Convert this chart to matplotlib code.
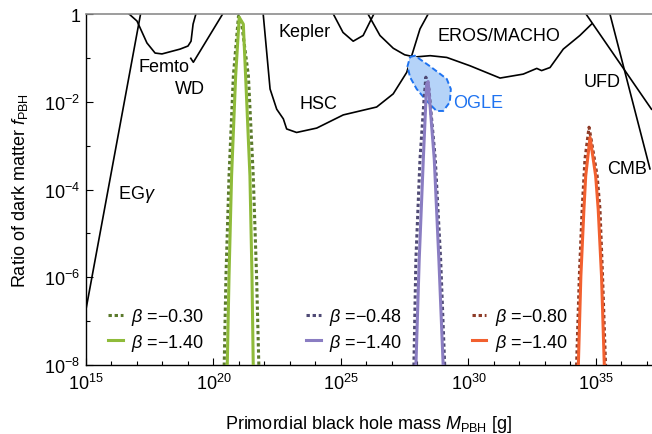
import numpy as np
import matplotlib
matplotlib.use("Agg")
import matplotlib.pyplot as plt
from matplotlib.legend import Legend
from matplotlib.ticker import FixedLocator, FixedFormatter

plt.rcParams["font.family"] = ["Liberation Sans", "DejaVu Sans"]
plt.rcParams["mathtext.fontset"] = "custom"
plt.rcParams["mathtext.rm"] = "Liberation Sans"
plt.rcParams["mathtext.it"] = "Liberation Sans:italic"
plt.rcParams["mathtext.bf"] = "Liberation Sans:bold"
plt.rcParams["font.size"] = 13

# constraint curves, log10(M / g) and log10(f_PBH)
egamma_logm = [15.0, 17.14]
egamma_logf = [-6.73, 0.0]

femto_logm = [16.69, 17.0, 17.39, 17.71, 17.98, 18.69, 19.0, 19.12, 19.20, 19.31]
femto_logf = [0.0, -0.16, -0.66, -0.89, -0.91, -0.80, -0.73, -0.62, -0.23, 0.0]

wd_logm = [19.11, 19.21, 20.36]
wd_logf = [-1.01, -1.10, 0.0]

kepler_logm = [24.70, 25.08, 25.48, 25.87, 26.29]
kepler_logf = [0.0, -0.42, -0.62, -0.49, 0.0]

hsc_logm = [21.95, 22.22, 22.48, 22.74, 22.87, 23.26, 24.05, 25.09,
            26.40, 27.05, 27.58, 27.77, 28.10, 28.42]
hsc_logf = [0.0, -1.71, -2.17, -2.39, -2.62, -2.70, -2.60, -2.30,
            -2.12, -1.82, -1.33, -0.96, -0.34, 0.0]

eros_logm = [26.06, 26.53, 27.05, 27.50, 27.90, 28.50, 29.15, 30.06,
             31.24, 32.15, 32.68, 32.87, 33.20, 33.72, 34.37, 34.83]
eros_logf = [0.0, -0.49, -0.78, -0.93, -0.98, -0.95, -0.99, -1.18,
             -1.46, -1.37, -1.24, -1.29, -1.22, -0.80, -0.49, -0.23]

ufd_logm = [34.61, 37.18]
ufd_logf = [0.0, -2.17]

cmb_logm = [35.55, 37.12]
cmb_logf = [0.0, -3.53]

ogle_logm = [27.71, 27.90, 28.49, 29.15, 29.31, 29.27, 29.01, 28.75,
             28.36, 27.97, 27.71, 27.61]
ogle_logf = [-0.98, -0.95, -1.19, -1.48, -1.71, -2.01, -2.21, -2.21,
             -1.98, -1.71, -1.44, -1.19]

# mass functions
green_dot_logm = [20.42, 20.49, 20.61, 20.78, 20.98, 21.10, 21.37, 21.56, 21.69, 21.78]
green_dot_logf = [-8.02, -5.97, -3.69, -1.41, -0.05, -0.20, -1.41, -3.69, -5.97, -8.02]
green_sol_logm = [20.54, 20.61, 20.71, 20.87, 21.01, 21.17, 21.26, 21.43, 21.51, 21.56]
green_sol_logf = [-8.02, -5.97, -3.69, -1.41, -0.075, -0.23, -1.41, -3.69, -5.97, -8.02]

purple_dot_logm = [27.86, 27.94, 28.10, 28.26, 28.33, 28.45, 28.70, 28.91, 29.07]
purple_dot_logf = [-8.02, -5.59, -3.31, -1.94, -1.44, -1.71, -3.31, -5.59, -8.02]
purple_sol_logm = [27.94, 28.07, 28.23, 28.36, 28.42, 28.66, 28.84, 29.01]
purple_sol_logf = [-8.02, -5.59, -3.31, -1.60, -1.54, -3.31, -5.59, -8.02]

orange_dot_logm = [34.24, 34.35, 34.46, 34.57, 34.73, 34.80, 35.05, 35.16, 35.26, 35.38]
orange_dot_logf = [-8.02, -5.97, -4.45, -3.31, -2.58, -2.81, -3.69, -4.45, -5.97, -8.02]
orange_sol_logm = [34.31, 34.41, 34.53, 34.60, 34.77, 34.99, 35.09, 35.22, 35.33]
orange_sol_logf = [-8.02, -5.97, -4.45, -3.69, -2.81, -3.69, -4.45, -5.97, -8.02]

x_ticks = [1e15, 1e20, 1e25, 1e30, 1e35]
x_tick_labels = ["$10^{15}$", "$10^{20}$", "$10^{25}$", "$10^{30}$", "$10^{35}$"]
y_ticks = [1e-8, 1e-6, 1e-4, 1e-2, 1.0]
y_tick_labels = ["$10^{-8}$", "$10^{-6}$", "$10^{-4}$", "$10^{-2}$", "1"]


def p(values):
    return 10.0 ** np.array(values)


def create_plot():
    fig = plt.figure(figsize=(6.52, 4.35), dpi=100)
    ax = fig.add_axes([86 / 652, 69 / 435, 566 / 652, 351 / 435])

    ax.set_xscale("log")
    ax.set_yscale("log")
    ax.set_xlim(1e15, 10 ** 37.2)
    ax.set_ylim(1e-8, 1.0)

    black_curves = [
        (egamma_logm, egamma_logf),
        (femto_logm, femto_logf),
        (wd_logm, wd_logf),
        (kepler_logm, kepler_logf),
        (hsc_logm, hsc_logf),
        (eros_logm, eros_logf),
        (ufd_logm, ufd_logf),
        (cmb_logm, cmb_logf),
    ]
    for logm, logf in black_curves:
        ax.plot(p(logm), p(logf), color="black", lw=1.2)

    ax.fill(p(ogle_logm), p(ogle_logf), facecolor="#b5d3f8",
            edgecolor="#1f73f0", lw=1.4, linestyle=(0, (3, 1.5)), zorder=3)

    dot_style = dict(lw=2.2, linestyle=(0, (1.1, 0.9)), zorder=4)
    sol_style = dict(lw=2.2, zorder=5)

    h1, = ax.plot(p(green_dot_logm), p(green_dot_logf), color="#5b7a2c", **dot_style)
    h2, = ax.plot(p(green_sol_logm), p(green_sol_logf), color="#8fbb3a", **sol_style)
    h3, = ax.plot(p(purple_dot_logm), p(purple_dot_logf), color="#4f4a75", **dot_style)
    h4, = ax.plot(p(purple_sol_logm), p(purple_sol_logf), color="#8a7dc2", **sol_style)
    h5, = ax.plot(p(orange_dot_logm), p(orange_dot_logf), color="#8e3b27", **dot_style)
    h6, = ax.plot(p(orange_sol_logm), p(orange_sol_logf), color="#f2602f", **sol_style)

    labels = [
        ("Kepler", 23.59, -0.39),
        ("HSC", 24.10, -2.03),
        ("EROS/MACHO", 31.18, -0.50),
        ("UFD", 35.24, -1.53),
        ("CMB", 36.22, -3.53),
        ("Femto", 18.06, -1.19),
        ("WD", 19.08, -1.69),
        ("EG$\\gamma$", 17.0, -4.10),
    ]
    for text, lx, ly in labels:
        ax.text(10 ** lx, 10 ** ly, text, ha="center", va="center", fontsize=13)
    ax.text(10 ** 29.39, 10 ** -2.01, "OGLE", ha="left", va="center",
            fontsize=13, color="#1f73f0")

    groups = [
        ((h1, h2), ("$\\beta$ =\u22120.30", "$\\beta$ =\u22121.40"), 0.039),
        ((h3, h4), ("$\\beta$ =\u22120.48", "$\\beta$ =\u22121.40"), 0.389),
        ((h5, h6), ("$\\beta$ =\u22120.80", "$\\beta$ =\u22121.40"), 0.682),
    ]
    for handles, texts, x0 in groups:
        leg = Legend(ax, handles, texts, loc="lower left",
                     bbox_to_anchor=(x0, 0.035), frameon=False,
                     borderpad=0, borderaxespad=0, handlelength=0.8,
                     handletextpad=0.45, labelspacing=0.25, fontsize=13)
        ax.add_artist(leg)

    ax.xaxis.set_major_locator(FixedLocator(x_ticks))
    ax.xaxis.set_major_formatter(FixedFormatter(x_tick_labels))
    ax.xaxis.set_minor_locator(FixedLocator([10.0 ** k for k in range(15, 38)]))
    ax.yaxis.set_major_locator(FixedLocator(y_ticks))
    ax.yaxis.set_major_formatter(FixedFormatter(y_tick_labels))
    ax.yaxis.set_minor_locator(FixedLocator([10.0 ** k for k in range(-8, 1)]))
    ax.xaxis.set_minor_formatter(FixedFormatter([]))
    ax.yaxis.set_minor_formatter(FixedFormatter([]))

    ax.tick_params(which="both", direction="in", top=False, right=False, width=0.8)
    ax.tick_params(which="major", length=5, labelsize=13)
    ax.tick_params(which="minor", length=3.2)
    ax.tick_params(axis="x", which="major", pad=6)
    ax.tick_params(axis="y", which="major", pad=4)

    ax.spines["right"].set_visible(False)
    ax.spines["top"].set_color("#8c8c8c")
    ax.spines["top"].set_linewidth(1.2)
    ax.spines["left"].set_linewidth(1.0)
    ax.spines["bottom"].set_linewidth(1.0)

    ax.set_xlabel("Primordial black hole mass $M_{\\mathrm{PBH}}$ [g]", fontsize=13,
                  labelpad=14)
    ax.set_ylabel("Ratio of dark matter $f_{\\mathrm{PBH}}$", fontsize=13, labelpad=10)

    fig.savefig("out.png", dpi=100)
    plt.close(fig)


if __name__ == "__main__":
    create_plot()
